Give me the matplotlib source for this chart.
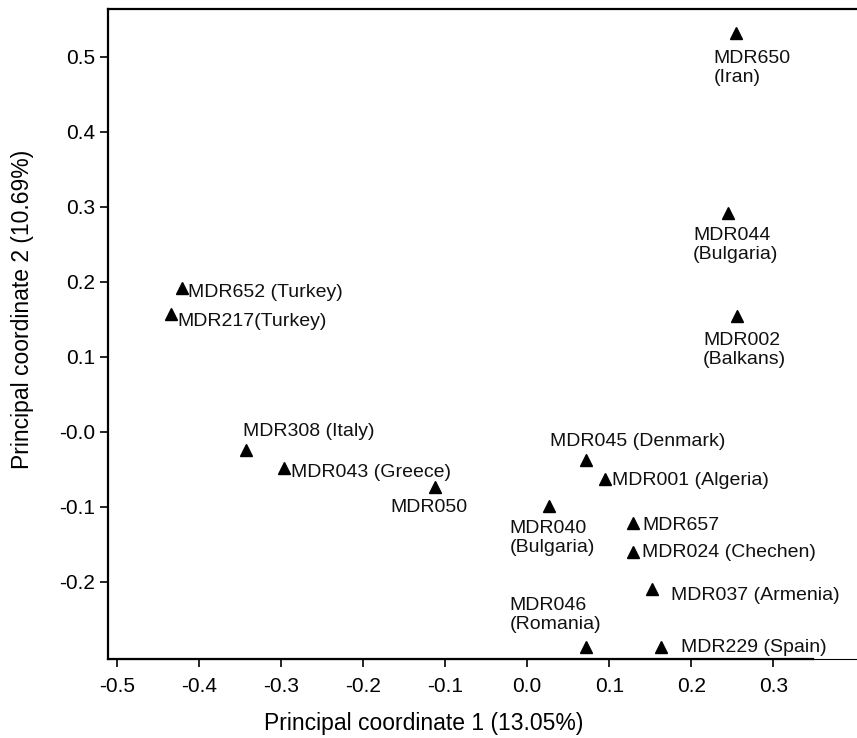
import numpy as np
import matplotlib.pyplot as plt

plt.rcParams['font.family'] = ['Liberation Sans', 'DejaVu Sans']

# sample names and principal coordinates
names = ["MDR650\n(Iran)", "MDR044\n(Bulgaria)", "MDR002\n(Balkans)",
         "MDR652 (Turkey)", "MDR217(Turkey)", "MDR308 (Italy)",
         "MDR043 (Greece)", "MDR050", "MDR045 (Denmark)",
         "MDR001 (Algeria)", "MDR040\n(Bulgaria)", "MDR657",
         "MDR024 (Chechen)", "MDR037 (Armenia)", "MDR046\n(Romania)",
         "MDR229 (Spain)"]
pc1 = [0.255, 0.245, 0.256, -0.421, -0.434, -0.343, -0.296, -0.112,
       0.072, 0.095, 0.026, 0.129, 0.129, 0.152, 0.072, 0.163]
pc2 = [0.532, 0.292, 0.155, 0.192, 0.157, -0.024, -0.048, -0.073,
       -0.037, -0.063, -0.099, -0.121, -0.160, -0.209, -0.287, -0.287]

# label offsets from the point, in pixels (left edge, vertical centre)
label_dx = [-23, -35, -34, 6, 6, -3, 7, -45, -36, 7, -39, 9, 9, 19, -77, 20]
label_dy = [-35, -32, -34, -5, -7, 18, -5, -21, 18, -1, -32, -3, -1, -7, 32, 0]

xticks = [-0.5, -0.4, -0.3, -0.2, -0.1, 0.0, 0.1, 0.2, 0.3]
xtick_labels = ["-0.5", "-0.4", "-0.3", "-0.2", "-0.1", "0.0", "0.1", "0.2", "0.3"]
yticks = [-0.2, -0.1, 0.0, 0.1, 0.2, 0.3, 0.4, 0.5]
ytick_labels = ["-0.2", "-0.1", "-0.0", "0.1", "0.2", "0.3", "0.4", "0.5"]

fig = plt.figure(figsize=(8.57, 7.38), dpi=100)
ax = fig.add_axes([0.126, 0.107, 0.874, 0.881])

ax.plot(pc1, pc2, linestyle='none', marker='^', color='black', markersize=9)

for i in range(len(names)):
    ax.annotate(names[i], (pc1[i], pc2[i]), xytext=(label_dx[i], label_dy[i]),
                textcoords='offset pixels', ha='left', va='center',
                fontsize=14, linespacing=1.15, color='#111111')

ax.set_xlim(-0.511, 0.402)
ax.set_ylim(-0.303, 0.564)
ax.set_xticks(xticks)
ax.set_xticklabels(xtick_labels)
ax.set_yticks(yticks)
ax.set_yticklabels(ytick_labels)
ax.tick_params(labelsize=15, width=1.2, length=6, direction='out')
ax.tick_params(axis='x', pad=7)

ax.spines['right'].set_visible(False)
for s in ['left', 'top', 'bottom']:
    ax.spines[s].set_linewidth(1.6)
# thick bottom line stops short, a thin one carries on to the edge
ax.spines['bottom'].set_bounds(-0.511, 0.348)
ax.axhline(-0.303, color='black', linewidth=0.8, clip_on=False)

ax.set_xlabel("Principal coordinate 1 (13.05%)", fontsize=16.5)
ax.set_ylabel("Principal coordinate 2 (10.69%)", fontsize=16.5)
ax.xaxis.set_label_coords(0.422, -0.082)
ax.yaxis.set_label_coords(-0.099, 0.538)

plt.savefig("out.png", dpi=100)
